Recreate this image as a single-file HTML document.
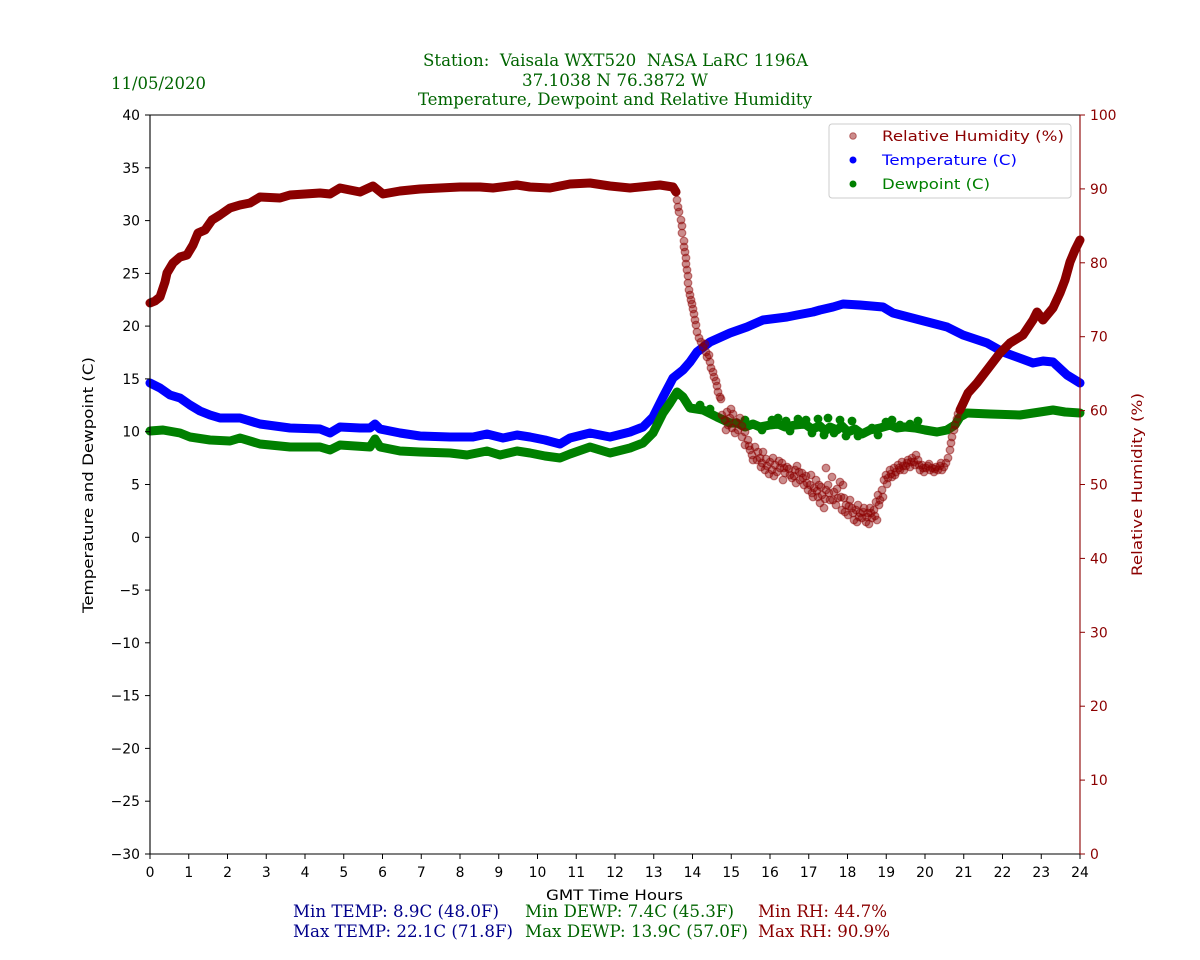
<!DOCTYPE html>
<html><head><meta charset="utf-8"><style>
html,body{margin:0;padding:0;background:#fff;}
svg{display:block;}
.t{font-family:"DejaVu Sans","Liberation Sans",sans-serif;font-size:13.9px;}
.s{font-family:"DejaVu Serif","Liberation Serif",serif;font-stretch:condensed;font-size:16.7px;white-space:pre;}
</style></head><body>
<svg width="1200" height="960" viewBox="0 0 1200 960" xmlns="http://www.w3.org/2000/svg">
<rect width="1200" height="960" fill="#fff"/>

<!-- titles -->
<text class="s" x="423" y="66" fill="#006400" textLength="385" lengthAdjust="spacingAndGlyphs">Station:  Vaisala WXT520  NASA LaRC 1196A</text>
<text class="s" x="522" y="86" fill="#006400" textLength="186" lengthAdjust="spacingAndGlyphs">37.1038 N 76.3872 W</text>
<text class="s" x="418" y="105" fill="#006400" textLength="394" lengthAdjust="spacingAndGlyphs">Temperature, Dewpoint and Relative Humidity</text>
<text class="s" x="111" y="89" fill="#006400" textLength="95" lengthAdjust="spacingAndGlyphs">11/05/2020</text>

<!-- data: temperature -->
<polyline fill="none" stroke="#0000ff" stroke-width="9" stroke-linejoin="round" stroke-linecap="round" points="150,383 160,388 170,395 180,398 190,405 200,411 210,415 220,418 240,418 260,424 275,426 290,428 320,429 330,433 340,427 360,428 370,428 375,424 380,429 400,433 420,436 450,437 473,437 487,434 503,438 517,435 530,437 545,440 560,444 570,438 590,433 610,437 630,432 643,427 653,417 663,397 673,378 683,370 690,362 697,352 710,342 730,333 747,327 763,320 787,317 797,315 813,312 820,310 833,307 843,304 860,305 883,307 893,313 920,320 947,327 963,335 987,343 1003,352 1033,363 1043,361 1053,362 1067,375 1080,383"/>

<!-- data: dewpoint -->
<polyline fill="none" stroke="#008000" stroke-width="9" stroke-linejoin="round" stroke-linecap="round" points="150,431 163,430 180,433 190,437 210,440 230,441 240,438 260,444 290,447 320,447 330,450 340,445 370,447 375,439 380,447 400,451 420,452 450,453 467,455 487,451 500,455 517,451 530,453 545,456 560,458 570,454 590,447 610,453 630,448 643,443 653,433 663,413 670,403 677,392 683,397 690,408 703,410 717,417 730,423 737,423 745,427 753,424 760,427 770,425 778,424 785,427 795,425 805,424 812,429 820,426 825,431 830,427 837,430 842,426 848,432 855,429 862,434 870,430 880,428 890,425 897,428 905,427 915,428 925,430 937,432 947,430 955,425 960,417 967,413 990,414 1020,415 1040,412 1053,410 1065,412 1080,413"/>
<g fill="#008000">
<circle cx="745" cy="420" r="4.4"/><circle cx="762" cy="430" r="4.4"/><circle cx="772" cy="420" r="4.4"/><circle cx="778" cy="418" r="4.4"/><circle cx="786" cy="421" r="4.4"/><circle cx="790" cy="431" r="4.4"/><circle cx="798" cy="419" r="4.4"/><circle cx="806" cy="420" r="4.4"/><circle cx="812" cy="433" r="4.4"/><circle cx="818" cy="419" r="4.4"/><circle cx="824" cy="435" r="4.4"/><circle cx="828" cy="418" r="4.4"/><circle cx="834" cy="433" r="4.4"/><circle cx="840" cy="420" r="4.4"/><circle cx="846" cy="436" r="4.4"/><circle cx="852" cy="421" r="4.4"/><circle cx="858" cy="436" r="4.4"/><circle cx="864" cy="433" r="4.4"/><circle cx="872" cy="428" r="4.4"/><circle cx="878" cy="435" r="4.4"/><circle cx="886" cy="422" r="4.4"/><circle cx="892" cy="420" r="4.4"/><circle cx="900" cy="425" r="4.4"/><circle cx="910" cy="424" r="4.4"/><circle cx="918" cy="421" r="4.4"/><circle cx="700" cy="405" r="4.4"/><circle cx="710" cy="409" r="4.4"/>
</g>

<!-- data: RH dense -->
<polyline fill="none" stroke="#8b0000" stroke-width="9" stroke-linejoin="round" stroke-linecap="round" points="150,303 155,301 160,297 165,282 167,273 173,263 180,257 187,255 193,245 198,233 205,230 212,220 220,215 230,208 240,205 250,203 260,197 280,198 290,195 320,193 330,194 340,188 360,192 373,186 383,194 400,191 420,189 440,188 460,187 480,187 493,188 517,185 530,187 550,188 570,184 590,183 610,186 630,188 660,185 673,187 676,192"/>
<polyline fill="none" stroke="#8b0000" stroke-width="9" stroke-linejoin="round" stroke-linecap="round" points="960,410 968,393 977,383 987,370 1000,353 1010,343 1023,335 1033,320 1037,312 1043,320 1053,308 1060,293 1065,280 1070,262 1075,250 1080,240"/>
<!-- RH scatter -->
<g fill="#8b0000" fill-opacity="0.45" stroke="#8b0000" stroke-opacity="0.5" stroke-width="1.2">
<circle cx="677" cy="200" r="3.8"/><circle cx="678" cy="207" r="3.8"/><circle cx="679" cy="212" r="3.8"/><circle cx="681" cy="220" r="3.8"/><circle cx="682" cy="226" r="3.8"/><circle cx="682" cy="233" r="3.8"/><circle cx="684" cy="241" r="3.8"/><circle cx="684" cy="247" r="3.8"/><circle cx="685" cy="252" r="3.8"/><circle cx="686" cy="258" r="3.8"/><circle cx="686" cy="264" r="3.8"/><circle cx="687" cy="270" r="3.8"/><circle cx="688" cy="276" r="3.8"/><circle cx="688" cy="283" r="3.8"/><circle cx="689" cy="290" r="3.8"/><circle cx="690" cy="295" r="3.8"/><circle cx="691" cy="300" r="3.8"/><circle cx="692" cy="304" r="3.8"/><circle cx="693" cy="309" r="3.8"/><circle cx="694" cy="314" r="3.8"/><circle cx="695" cy="320" r="3.8"/><circle cx="696" cy="325" r="3.8"/><circle cx="697" cy="332" r="3.8"/><circle cx="699" cy="338" r="3.8"/><circle cx="701" cy="342" r="3.8"/><circle cx="703" cy="347" r="3.8"/><circle cx="705" cy="344" r="3.8"/><circle cx="706" cy="352" r="3.8"/><circle cx="707" cy="357" r="3.8"/><circle cx="709" cy="355" r="3.8"/><circle cx="710" cy="362" r="3.8"/><circle cx="711" cy="368" r="3.8"/><circle cx="713" cy="372" r="3.8"/><circle cx="714" cy="377" r="3.8"/><circle cx="716" cy="381" r="3.8"/><circle cx="717" cy="386" r="3.8"/><circle cx="718" cy="392" r="3.8"/><circle cx="720" cy="397" r="3.8"/><circle cx="721" cy="399" r="3.8"/>
<circle cx="722" cy="415" r="3.8"/><circle cx="725" cy="420" r="3.8"/><circle cx="727" cy="412" r="3.8"/><circle cx="728" cy="425" r="3.8"/><circle cx="730" cy="418" r="3.8"/><circle cx="732" cy="428" r="3.8"/><circle cx="733" cy="414" r="3.8"/><circle cx="736" cy="422" r="3.8"/><circle cx="738" cy="430" r="3.8"/><circle cx="740" cy="418" r="3.8"/><circle cx="742" cy="426" r="3.8"/><circle cx="735" cy="433" r="3.8"/><circle cx="745" cy="432" r="3.8"/><circle cx="726" cy="430" r="3.8"/><circle cx="731" cy="409" r="3.8"/>
<circle cx="742" cy="437" r="3.8"/><circle cx="745" cy="445" r="3.8"/><circle cx="748" cy="440" r="3.8"/><circle cx="750" cy="450" r="3.8"/><circle cx="752" cy="455" r="3.8"/><circle cx="755" cy="447" r="3.8"/><circle cx="757" cy="460" r="3.8"/><circle cx="760" cy="458" r="3.8"/><circle cx="762" cy="463" r="3.8"/><circle cx="765" cy="470" r="3.8"/><circle cx="767" cy="466" r="3.8"/><circle cx="770" cy="462" r="3.8"/><circle cx="772" cy="470" r="3.8"/><circle cx="775" cy="465" r="3.8"/><circle cx="777" cy="472" r="3.8"/><circle cx="780" cy="468" r="3.8"/><circle cx="782" cy="463" r="3.8"/><circle cx="785" cy="473" r="3.8"/><circle cx="787" cy="467" r="3.8"/><circle cx="790" cy="475" r="3.8"/><circle cx="792" cy="478" r="3.8"/><circle cx="795" cy="470" r="3.8"/><circle cx="797" cy="466" r="3.8"/><circle cx="800" cy="480" r="3.8"/><circle cx="802" cy="473" r="3.8"/><circle cx="804" cy="485" r="3.8"/><circle cx="806" cy="476" r="3.8"/><circle cx="808" cy="490" r="3.8"/><circle cx="810" cy="485" r="3.8"/><circle cx="812" cy="493" r="3.8"/><circle cx="814" cy="488" r="3.8"/><circle cx="816" cy="480" r="3.8"/><circle cx="818" cy="497" r="3.8"/><circle cx="820" cy="503" r="3.8"/><circle cx="822" cy="495" r="3.8"/><circle cx="824" cy="508" r="3.8"/><circle cx="826" cy="490" r="3.8"/><circle cx="828" cy="485" r="3.8"/><circle cx="830" cy="500" r="3.8"/><circle cx="832" cy="477" r="3.8"/><circle cx="834" cy="492" r="3.8"/><circle cx="836" cy="505" r="3.8"/><circle cx="838" cy="498" r="3.8"/><circle cx="840" cy="482" r="3.8"/><circle cx="842" cy="510" r="3.8"/><circle cx="844" cy="498" r="3.8"/><circle cx="846" cy="505" r="3.8"/><circle cx="848" cy="515" r="3.8"/><circle cx="850" cy="500" r="3.8"/><circle cx="852" cy="508" r="3.8"/><circle cx="854" cy="520" r="3.8"/><circle cx="856" cy="510" r="3.8"/><circle cx="858" cy="505" r="3.8"/><circle cx="860" cy="513" r="3.8"/><circle cx="862" cy="518" r="3.8"/><circle cx="864" cy="508" r="3.8"/><circle cx="866" cy="522" r="3.8"/><circle cx="868" cy="513" r="3.8"/><circle cx="870" cy="508" r="3.8"/><circle cx="872" cy="518" r="3.8"/><circle cx="874" cy="510" r="3.8"/><circle cx="876" cy="502" r="3.8"/><circle cx="878" cy="495" r="3.8"/><circle cx="880" cy="500" r="3.8"/><circle cx="882" cy="490" r="3.8"/><circle cx="884" cy="480" r="3.8"/><circle cx="886" cy="475" r="3.8"/><circle cx="888" cy="478" r="3.8"/><circle cx="890" cy="470" r="3.8"/><circle cx="892" cy="477" r="3.8"/><circle cx="894" cy="468" r="3.8"/><circle cx="896" cy="472" r="3.8"/><circle cx="898" cy="465" r="3.8"/><circle cx="900" cy="470" r="3.8"/><circle cx="902" cy="462" r="3.8"/><circle cx="904" cy="470" r="3.8"/><circle cx="906" cy="466" r="3.8"/><circle cx="908" cy="460" r="3.8"/><circle cx="910" cy="467" r="3.8"/><circle cx="912" cy="458" r="3.8"/><circle cx="914" cy="462" r="3.8"/><circle cx="916" cy="455" r="3.8"/><circle cx="918" cy="460" r="3.8"/><circle cx="920" cy="470" r="3.8"/><circle cx="922" cy="465" r="3.8"/><circle cx="924" cy="472" r="3.8"/><circle cx="926" cy="468" r="3.8"/><circle cx="928" cy="466" r="3.8"/><circle cx="930" cy="470" r="3.8"/><circle cx="932" cy="468" r="3.8"/><circle cx="934" cy="472" r="3.8"/><circle cx="936" cy="467" r="3.8"/><circle cx="938" cy="470" r="3.8"/><circle cx="940" cy="466" r="3.8"/><circle cx="942" cy="470" r="3.8"/><circle cx="944" cy="467" r="3.8"/><circle cx="946" cy="463" r="3.8"/><circle cx="948" cy="458" r="3.8"/><circle cx="950" cy="450" r="3.8"/><circle cx="951" cy="443" r="3.8"/><circle cx="952" cy="437" r="3.8"/><circle cx="954" cy="430" r="3.8"/><circle cx="955" cy="425" r="3.8"/><circle cx="957" cy="419" r="3.8"/><circle cx="958" cy="414" r="3.8"/>
<circle cx="783" cy="480" r="3.8"/><circle cx="796" cy="483" r="3.8"/><circle cx="811" cy="475" r="3.8"/><circle cx="819" cy="485" r="3.8"/><circle cx="826" cy="468" r="3.8"/><circle cx="843" cy="485" r="3.8"/><circle cx="857" cy="522" r="3.8"/><circle cx="869" cy="524" r="3.8"/><circle cx="877" cy="520" r="3.8"/><circle cx="773" cy="458" r="3.8"/><circle cx="763" cy="452" r="3.8"/>
<circle cx="749" cy="446" r="3.8"/><circle cx="753" cy="460" r="3.8"/><circle cx="758" cy="452" r="3.8"/><circle cx="761" cy="467" r="3.8"/><circle cx="766" cy="459" r="3.8"/><circle cx="769" cy="474" r="3.8"/><circle cx="774" cy="476" r="3.8"/><circle cx="779" cy="461" r="3.8"/><circle cx="784" cy="468" r="3.8"/><circle cx="789" cy="469" r="3.8"/><circle cx="794" cy="476" r="3.8"/><circle cx="799" cy="472" r="3.8"/><circle cx="803" cy="478" r="3.8"/><circle cx="807" cy="483" r="3.8"/><circle cx="813" cy="497" r="3.8"/><circle cx="817" cy="491" r="3.8"/><circle cx="821" cy="487" r="3.8"/><circle cx="825" cy="499" r="3.8"/><circle cx="829" cy="493" r="3.8"/><circle cx="833" cy="500" r="3.8"/><circle cx="837" cy="489" r="3.8"/><circle cx="841" cy="497" r="3.8"/><circle cx="845" cy="512" r="3.8"/><circle cx="849" cy="506" r="3.8"/><circle cx="853" cy="513" r="3.8"/><circle cx="859" cy="517" r="3.8"/><circle cx="863" cy="512" r="3.8"/><circle cx="867" cy="517" r="3.8"/><circle cx="871" cy="513" r="3.8"/><circle cx="875" cy="516" r="3.8"/><circle cx="879" cy="505" r="3.8"/><circle cx="883" cy="497" r="3.8"/><circle cx="887" cy="484" r="3.8"/><circle cx="891" cy="474" r="3.8"/><circle cx="895" cy="475" r="3.8"/><circle cx="899" cy="468" r="3.8"/><circle cx="903" cy="466" r="3.8"/><circle cx="907" cy="463" r="3.8"/><circle cx="911" cy="462" r="3.8"/><circle cx="915" cy="465" r="3.8"/><circle cx="919" cy="465" r="3.8"/><circle cx="923" cy="468" r="3.8"/><circle cx="929" cy="464" r="3.8"/><circle cx="935" cy="469" r="3.8"/><circle cx="941" cy="463" r="3.8"/>
</g>

<!-- spines & ticks -->
<g stroke="#000" stroke-width="1.1" fill="none">
<line x1="150" y1="115" x2="1080" y2="115"/>
<line x1="150" y1="115" x2="150" y2="854.5"/>
<line x1="150" y1="854" x2="1080" y2="854"/>
</g>
<line x1="1080" y1="115" x2="1080" y2="854.5" stroke="#8b0000" stroke-width="1.1"/>
<g stroke="#000" stroke-width="1">
<line x1="145" y1="115" x2="150" y2="115"/><line x1="145" y1="167.8" x2="150" y2="167.8"/><line x1="145" y1="220.6" x2="150" y2="220.6"/><line x1="145" y1="273.4" x2="150" y2="273.4"/><line x1="145" y1="326.1" x2="150" y2="326.1"/><line x1="145" y1="378.9" x2="150" y2="378.9"/><line x1="145" y1="431.7" x2="150" y2="431.7"/><line x1="145" y1="484.5" x2="150" y2="484.5"/><line x1="145" y1="537.3" x2="150" y2="537.3"/><line x1="145" y1="590.1" x2="150" y2="590.1"/><line x1="145" y1="642.8" x2="150" y2="642.8"/><line x1="145" y1="695.6" x2="150" y2="695.6"/><line x1="145" y1="748.4" x2="150" y2="748.4"/><line x1="145" y1="801.2" x2="150" y2="801.2"/><line x1="145" y1="854" x2="150" y2="854"/>
<line x1="150" y1="854" x2="150" y2="859"/><line x1="188.75" y1="854" x2="188.75" y2="859"/><line x1="227.5" y1="854" x2="227.5" y2="859"/><line x1="266.25" y1="854" x2="266.25" y2="859"/><line x1="305" y1="854" x2="305" y2="859"/><line x1="343.75" y1="854" x2="343.75" y2="859"/><line x1="382.5" y1="854" x2="382.5" y2="859"/><line x1="421.25" y1="854" x2="421.25" y2="859"/><line x1="460" y1="854" x2="460" y2="859"/><line x1="498.75" y1="854" x2="498.75" y2="859"/><line x1="537.5" y1="854" x2="537.5" y2="859"/><line x1="576.25" y1="854" x2="576.25" y2="859"/><line x1="615" y1="854" x2="615" y2="859"/><line x1="653.75" y1="854" x2="653.75" y2="859"/><line x1="692.5" y1="854" x2="692.5" y2="859"/><line x1="731.25" y1="854" x2="731.25" y2="859"/><line x1="770" y1="854" x2="770" y2="859"/><line x1="808.75" y1="854" x2="808.75" y2="859"/><line x1="847.5" y1="854" x2="847.5" y2="859"/><line x1="886.25" y1="854" x2="886.25" y2="859"/><line x1="925" y1="854" x2="925" y2="859"/><line x1="963.75" y1="854" x2="963.75" y2="859"/><line x1="1002.5" y1="854" x2="1002.5" y2="859"/><line x1="1041.25" y1="854" x2="1041.25" y2="859"/><line x1="1080" y1="854" x2="1080" y2="859"/>
</g>
<g stroke="#8b0000" stroke-width="1">
<line x1="1080" y1="115" x2="1085" y2="115"/><line x1="1080" y1="188.9" x2="1085" y2="188.9"/><line x1="1080" y1="262.8" x2="1085" y2="262.8"/><line x1="1080" y1="336.7" x2="1085" y2="336.7"/><line x1="1080" y1="410.6" x2="1085" y2="410.6"/><line x1="1080" y1="484.5" x2="1085" y2="484.5"/><line x1="1080" y1="558.4" x2="1085" y2="558.4"/><line x1="1080" y1="632.3" x2="1085" y2="632.3"/><line x1="1080" y1="706.2" x2="1085" y2="706.2"/><line x1="1080" y1="780.1" x2="1085" y2="780.1"/><line x1="1080" y1="854" x2="1085" y2="854"/>
</g>

<!-- left tick labels -->
<g class="t" fill="#000" text-anchor="end">
<text x="140" y="120">40</text><text x="140" y="172.8">35</text><text x="140" y="225.6">30</text><text x="140" y="278.4">25</text><text x="140" y="331.1">20</text><text x="140" y="383.9">15</text><text x="140" y="436.7">10</text><text x="140" y="489.5">5</text><text x="140" y="542.3">0</text><text x="140" y="595.1">−5</text><text x="140" y="647.8">−10</text><text x="140" y="700.6">−15</text><text x="140" y="753.4">−20</text><text x="140" y="806.2">−25</text><text x="140" y="859">−30</text>
</g>
<!-- right tick labels -->
<g class="t" fill="#8b0000">
<text x="1090" y="120">100</text><text x="1090" y="193.9">90</text><text x="1090" y="267.8">80</text><text x="1090" y="341.7">70</text><text x="1090" y="415.6">60</text><text x="1090" y="489.5">50</text><text x="1090" y="563.4">40</text><text x="1090" y="637.3">30</text><text x="1090" y="711.2">20</text><text x="1090" y="785.1">10</text><text x="1090" y="859">0</text>
</g>
<!-- bottom tick labels -->
<g class="t" fill="#000" text-anchor="middle">
<text x="150" y="877">0</text><text x="188.75" y="877">1</text><text x="227.5" y="877">2</text><text x="266.25" y="877">3</text><text x="305" y="877">4</text><text x="343.75" y="877">5</text><text x="382.5" y="877">6</text><text x="421.25" y="877">7</text><text x="460" y="877">8</text><text x="498.75" y="877">9</text><text x="537.5" y="877">10</text><text x="576.25" y="877">11</text><text x="615" y="877">12</text><text x="653.75" y="877">13</text><text x="692.5" y="877">14</text><text x="731.25" y="877">15</text><text x="770" y="877">16</text><text x="808.75" y="877">17</text><text x="847.5" y="877">18</text><text x="886.25" y="877">19</text><text x="925" y="877">20</text><text x="963.75" y="877">21</text><text x="1002.5" y="877">22</text><text x="1041.25" y="877">23</text><text x="1080" y="877">24</text>
</g>

<!-- axis labels -->
<text class="t" x="546" y="900" fill="#000" textLength="137" lengthAdjust="spacingAndGlyphs">GMT Time Hours</text>
<text class="t" transform="translate(93,613) rotate(-90)" fill="#000" textLength="256" lengthAdjust="spacingAndGlyphs">Temperature and Dewpoint (C)</text>
<text class="t" transform="translate(1142,576) rotate(-90)" fill="#8b0000" textLength="183" lengthAdjust="spacingAndGlyphs">Relative Humidity (%)</text>

<!-- legend -->
<rect x="829" y="124" width="242" height="74" rx="3" ry="3" fill="#fff" fill-opacity="0.8" stroke="#cccccc" stroke-width="1"/>
<circle cx="853" cy="136" r="3.3" fill="#8b0000" fill-opacity="0.45" stroke="#8b0000" stroke-opacity="0.5" stroke-width="1"/>
<circle cx="853" cy="160" r="3.5" fill="#0000ff"/>
<circle cx="853" cy="184" r="3.5" fill="#008000"/>
<text class="t" x="882" y="141" fill="#8b0000" textLength="182" lengthAdjust="spacingAndGlyphs">Relative Humidity (%)</text>
<text class="t" x="882" y="165" fill="#0000ff" textLength="135" lengthAdjust="spacingAndGlyphs">Temperature (C)</text>
<text class="t" x="882" y="189" fill="#008000" textLength="108" lengthAdjust="spacingAndGlyphs">Dewpoint (C)</text>

<!-- stats -->
<text class="s" x="293" y="917" fill="#00008b" textLength="206" lengthAdjust="spacingAndGlyphs">Min TEMP: 8.9C (48.0F)</text>
<text class="s" x="293" y="937" fill="#00008b" textLength="220" lengthAdjust="spacingAndGlyphs">Max TEMP: 22.1C (71.8F)</text>
<text class="s" x="525" y="917" fill="#006400" textLength="209" lengthAdjust="spacingAndGlyphs">Min DEWP: 7.4C (45.3F)</text>
<text class="s" x="525" y="937" fill="#006400" textLength="223" lengthAdjust="spacingAndGlyphs">Max DEWP: 13.9C (57.0F)</text>
<text class="s" x="758" y="917" fill="#8b0000" textLength="129" lengthAdjust="spacingAndGlyphs">Min RH: 44.7%</text>
<text class="s" x="758" y="937" fill="#8b0000" textLength="132" lengthAdjust="spacingAndGlyphs">Max RH: 90.9%</text>
</svg>
</body></html>
